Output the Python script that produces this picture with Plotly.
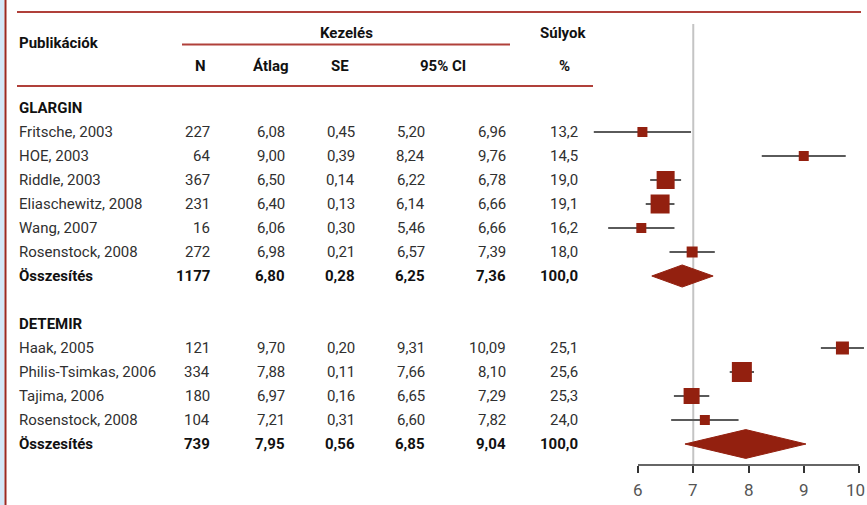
import plotly.graph_objects as go

# ---- data -------------------------------------------------------------
glargin_studies = ["Fritsche, 2003", "HOE, 2003", "Riddle, 2003",
                   "Eliaschewitz, 2008", "Wang, 2007", "Rosenstock, 2008"]
glargin_n = [227, 64, 367, 231, 16, 272]
glargin_mean = [6.08, 9.00, 6.50, 6.40, 6.06, 6.98]
glargin_se = [0.45, 0.39, 0.14, 0.13, 0.30, 0.21]
glargin_lo = [5.20, 8.24, 6.22, 6.14, 5.46, 6.57]
glargin_hi = [6.96, 9.76, 6.78, 6.66, 6.66, 7.39]
glargin_weight = [13.2, 14.5, 19.0, 19.1, 16.2, 18.0]
glargin_total = [1177, 6.80, 0.28, 6.25, 7.36, 100.0]   # N, mean, SE, lo, hi, weight

detemir_studies = ["Haak, 2005", "Philis-Tsimkas, 2006", "Tajima, 2006",
                   "Rosenstock, 2008"]
detemir_n = [121, 334, 180, 104]
detemir_mean = [9.70, 7.88, 6.97, 7.21]
detemir_se = [0.20, 0.11, 0.16, 0.31]
detemir_lo = [9.31, 7.66, 6.65, 6.60]
detemir_hi = [10.09, 8.10, 7.29, 7.82]
detemir_weight = [25.1, 25.6, 25.3, 24.0]
detemir_total = [739, 7.95, 0.56, 6.85, 9.04, 100.0]

axis_ticks = [6, 7, 8, 9, 10]
ref_value = 7

# ---- styling / layout constants --------------------------------------
W, H = 867, 505
ROW0, ROW_H = 132, 24          # pixel centre of the first study row, row pitch
AX_Y = 465                     # pixel row of the forest-plot axis
X6, X10 = 638, 859             # pixel position of the axis ends
SCALE = (X10 - X6) / (axis_ticks[-1] - axis_ticks[0])

RED = "#93200f"
LINE_RED = "#b0403a"
TXT = "#303030"
BOLD_TXT = "#111111"
FONT = "Roboto"
FS = 15

glargin_box = [10, 10, 18, 19, 10, 11]     # square marker sizes (px)
detemir_box = [13, 20, 16, 10]
diamond_half = [0.46, 0.60]                # diamond half-heights in rows


def px(x):
    return x / W


def py(y):
    return 1 - y / H


def fmt(v, d=2):
    return f"{v:.{d}f}".replace(".", ",")


fig = go.Figure()

groups = [
    ("GLARGIN", -1, glargin_studies, glargin_n, glargin_mean, glargin_se,
     glargin_lo, glargin_hi, glargin_weight, glargin_total, glargin_box),
    ("DETEMIR", 8, detemir_studies, detemir_n, detemir_mean, detemir_se,
     detemir_lo, detemir_hi, detemir_weight, detemir_total, detemir_box),
]

annotations = []
# column right edges (px) for the numeric columns
col_right = [212, 287, 357, 427, 508, 580]


def add_text(text, x, y, yref="y", anchor="right", bold=False, size=FS, color=None):
    annotations.append(dict(
        text=f"<b>{text}</b>" if bold else text,
        x=px(x), xref="paper", y=y, yref=yref,
        xanchor=anchor, yanchor="middle", showarrow=False,
        font=dict(family=FONT, size=size,
                  color=color or (BOLD_TXT if bold else TXT)),
    ))


for gi, (title, hrow, names, ns, means, ses, los, his, ws, tot, boxes) in enumerate(groups):
    add_text(title, 17, hrow, anchor="left", bold=True)
    rows = list(range(hrow + 1, hrow + 1 + len(names)))
    for r, name, n, m, s, lo, hi, w in zip(rows, names, ns, means, ses, los, his, ws):
        add_text(name, 17, r, anchor="left")
        vals = [str(n), fmt(m), fmt(s), fmt(lo), fmt(hi), fmt(w, 1)]
        for v, xr in zip(vals, col_right):
            add_text(v, xr, r)
    trow = rows[-1] + 1
    add_text("Összesítés", 17, trow, anchor="left", bold=True)
    tvals = [str(tot[0]), fmt(tot[1]), fmt(tot[2]), fmt(tot[3]), fmt(tot[4]), fmt(tot[5], 1)]
    for v, xr in zip(tvals, col_right):
        add_text(v, xr, trow, bold=True)

    # confidence interval whiskers
    xs, ys = [], []
    for r, lo, hi in zip(rows, los, his):
        xs += [lo, hi, None]
        ys += [r, r, None]
    fig.add_trace(go.Scatter(x=xs, y=ys, mode="lines",
                             line=dict(color="#5a5a5a", width=2),
                             hoverinfo="skip", showlegend=False))
    # study point estimates
    fig.add_trace(go.Scatter(x=means, y=rows, mode="markers",
                             marker=dict(symbol="square", size=boxes, color=RED,
                                         opacity=1, line=dict(width=0)),
                             showlegend=False))
    # pooled estimate diamond
    h = diamond_half[gi]
    fig.add_trace(go.Scatter(
        x=[tot[3], tot[1], tot[4], tot[1], tot[3]],
        y=[trow, trow - h, trow, trow + h, trow],
        mode="lines", fill="toself", fillcolor=RED,
        line=dict(color=RED, width=1), showlegend=False))

# header texts
add_text("Publikációk", 17, py(43), yref="paper", anchor="left", bold=True)
add_text("Kezelés", 346, py(33), yref="paper", anchor="center", bold=True)
add_text("Súlyok", 563, py(33), yref="paper", anchor="center", bold=True)
for label, xc in [("N", 200), ("Átlag", 271), ("SE", 340), ("95% CI", 443), ("%", 564)]:
    add_text(label, xc, py(66), yref="paper", anchor="center", bold=True)

# axis tick labels; the last one is pinned to the right edge so it stays visible
for i, t in enumerate(axis_ticks):
    last = i == len(axis_ticks) - 1
    annotations.append(dict(
        text=str(t), x=1 if last else t, xref="paper" if last else "x",
        y=py(490), yref="paper",
        xanchor="right" if last else "center", yanchor="middle", showarrow=False,
        font=dict(family=FONT, size=17, color="#555555")))

shapes = [
    # left frame
    dict(type="rect", xref="paper", yref="paper", x0=0, x1=px(4.5), y0=0, y1=1,
         fillcolor="#d4e8f8", line=dict(width=0), layer="below"),
    dict(type="line", xref="paper", yref="paper", x0=px(5.5), x1=px(5.5), y0=0, y1=1,
         line=dict(color="#9c2a22", width=2)),
    # table rules
    dict(type="line", xref="paper", yref="paper", x0=px(17), x1=px(861),
         y0=py(12), y1=py(12), line=dict(color=LINE_RED, width=2)),
    dict(type="line", xref="paper", yref="paper", x0=px(182), x1=px(510),
         y0=py(44.5), y1=py(44.5), line=dict(color=LINE_RED, width=2)),
    dict(type="line", xref="paper", yref="paper", x0=px(17), x1=px(593),
         y0=py(86), y1=py(86), line=dict(color=LINE_RED, width=2)),
    # reference line
    dict(type="line", xref="x", yref="paper", x0=ref_value, x1=ref_value,
         y0=py(24), y1=py(AX_Y), line=dict(color="#c4c4c4", width=2), layer="below"),
    # axis baseline
    dict(type="line", xref="x", yref="paper", x0=axis_ticks[0], x1=axis_ticks[-1],
         y0=py(AX_Y), y1=py(AX_Y), line=dict(color="#333333", width=1.5)),
]

x_left = axis_ticks[0] - X6 / SCALE
x_right = axis_ticks[0] + (W - X6) / SCALE

fig.update_layout(
    width=W, height=H,
    margin=dict(l=0, r=0, t=0, b=0),
    paper_bgcolor="white", plot_bgcolor="rgba(0,0,0,0)",
    showlegend=False,
    annotations=annotations,
    shapes=shapes,
    xaxis=dict(domain=[0, 1], range=[x_left, x_right],
               tickvals=axis_ticks, showticklabels=False,
               ticks="outside", ticklen=7, tickwidth=1.5, tickcolor="#333333",
               showgrid=False, zeroline=False, showline=False),
    yaxis=dict(domain=[1 - AX_Y / H, 1],
               range=[(AX_Y - ROW0) / ROW_H, -ROW0 / ROW_H],
               visible=False, showgrid=False, zeroline=False),
)

fig.write_html("out.html")
